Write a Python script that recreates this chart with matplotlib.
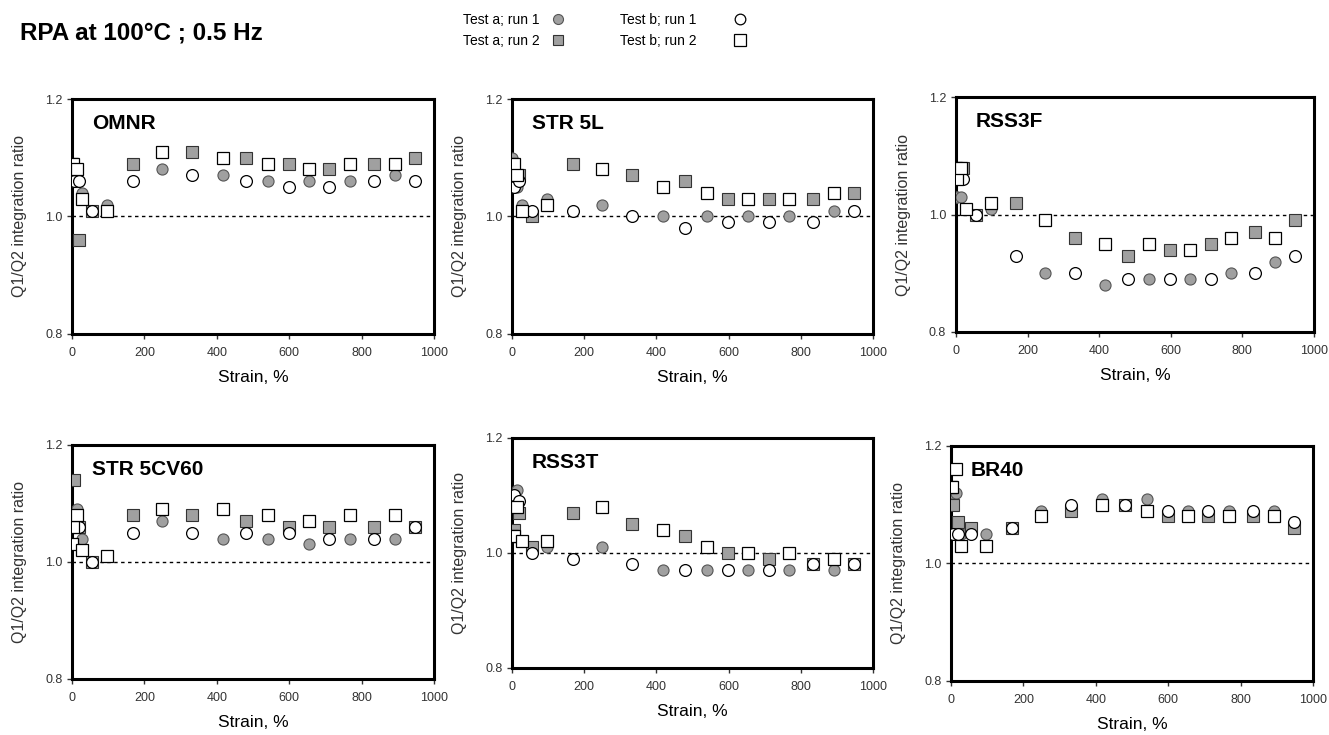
import matplotlib
matplotlib.use('Agg')
import matplotlib.pyplot as plt
import numpy as np

plt.rcParams['font.family'] = ['Liberation Sans', 'DejaVu Sans']

# Strain positions (%); test a run 1 / test b run 2 share one set, the others share the second set
strain_1 = [1, 4, 14, 28, 97, 249, 417, 540, 655, 767, 892]
strain_2 = [6, 19, 56, 168, 332, 480, 598, 711, 835, 948]

panels = ['OMNR', 'STR 5L', 'RSS3F', 'STR 5CV60', 'RSS3T', 'BR40']

# Q1/Q2 ratio per panel: a1 / b2 on strain_1, a2 / b1 on strain_2
a1 = {
    'OMNR':      [1.06, 1.06, 1.06, 1.04, 1.02, 1.08, 1.07, 1.06, 1.06, 1.06, 1.07],
    'STR 5L':    [1.10, 1.05, 1.05, 1.02, 1.03, 1.02, 1.00, 1.00, 1.00, 1.00, 1.01],
    'RSS3F':     [1.03, 1.03, 1.03, 1.01, 1.01, 0.90, 0.88, 0.89, 0.89, 0.90, 0.92],
    'STR 5CV60': [1.06, 1.06, 1.09, 1.04, 1.01, 1.07, 1.04, 1.04, 1.03, 1.04, 1.04],
    'RSS3T':     [1.10, 1.10, 1.11, 1.02, 1.01, 1.01, 0.97, 0.97, 0.97, 0.97, 0.97],
    'BR40':      [1.12, 1.12, 1.12, 1.05, 1.05, 1.09, 1.11, 1.11, 1.09, 1.09, 1.09],
}
b2 = {
    'OMNR':      [1.09, 1.09, 1.08, 1.03, 1.01, 1.11, 1.10, 1.09, 1.08, 1.09, 1.09],
    'STR 5L':    [1.09, 1.09, 1.07, 1.01, 1.02, 1.08, 1.05, 1.04, 1.03, 1.03, 1.04],
    'RSS3F':     [1.08, 1.06, 1.08, 1.01, 1.02, 0.99, 0.95, 0.95, 0.94, 0.96, 0.96],
    'STR 5CV60': [1.03, 1.06, 1.08, 1.02, 1.01, 1.09, 1.09, 1.08, 1.07, 1.08, 1.08],
    'RSS3T':     [1.03, 1.03, 1.08, 1.02, 1.02, 1.08, 1.04, 1.01, 1.00, 1.00, 0.99],
    'BR40':      [1.13, 1.13, 1.16, 1.03, 1.03, 1.08, 1.10, 1.09, 1.08, 1.08, 1.08],
}
a2 = {
    'OMNR':      [1.06, 0.96, 1.01, 1.09, 1.11, 1.10, 1.09, 1.08, 1.09, 1.10],
    'STR 5L':    [1.07, 1.07, 1.00, 1.09, 1.07, 1.06, 1.03, 1.03, 1.03, 1.04],
    'RSS3F':     [1.08, 1.08, 1.00, 1.02, 0.96, 0.93, 0.94, 0.95, 0.97, 0.99],
    'STR 5CV60': [1.14, 1.06, 1.00, 1.08, 1.08, 1.07, 1.06, 1.06, 1.06, 1.06],
    'RSS3T':     [1.04, 1.07, 1.01, 1.07, 1.05, 1.03, 1.00, 0.99, 0.98, 0.98],
    'BR40':      [1.10, 1.07, 1.06, 1.06, 1.09, 1.10, 1.08, 1.08, 1.08, 1.06],
}
b1 = {
    'OMNR':      [1.06, 1.06, 1.01, 1.06, 1.07, 1.06, 1.05, 1.05, 1.06, 1.06],
    'STR 5L':    [1.05, 1.06, 1.01, 1.01, 1.00, 0.98, 0.99, 0.99, 0.99, 1.01],
    'RSS3F':     [1.06, 1.06, 1.00, 0.93, 0.90, 0.89, 0.89, 0.89, 0.90, 0.93],
    'STR 5CV60': [1.06, 1.06, 1.00, 1.05, 1.05, 1.05, 1.05, 1.04, 1.04, 1.06],
    'RSS3T':     [1.10, 1.09, 1.00, 0.99, 0.98, 0.97, 0.97, 0.97, 0.98, 0.98],
    'BR40':      [1.05, 1.05, 1.05, 1.06, 1.10, 1.10, 1.09, 1.09, 1.09, 1.07],
}

fig = plt.figure(figsize=(13.29, 7.35), dpi=100)

boxes = [
    [0.0542, 0.5456, 0.2724, 0.3197],
    [0.3853, 0.5456, 0.2716, 0.3197],
    [0.7193, 0.5483, 0.2694, 0.3197],
    [0.0542, 0.0762, 0.2724, 0.3184],
    [0.3853, 0.0912, 0.2716, 0.3129],
    [0.7156, 0.0735, 0.2724, 0.3197],
]

grey = '#a0a0a0'
handles = {}
for name, box in zip(panels, boxes):
    ax = fig.add_axes(box)
    ax.axhline(1.0, color='black', lw=1.0, ls=(0, (2.5, 2.5)), zorder=1)
    h1, = ax.plot(strain_1, a1[name], 'o', ms=8, mfc=grey, mec='#555555', mew=0.8, ls='none', zorder=3)
    h2, = ax.plot(strain_2, a2[name], 's', ms=8.5, mfc=grey, mec='#333333', mew=0.8, ls='none', zorder=3)
    h3, = ax.plot(strain_2, b1[name], 'o', ms=8.5, mfc='white', mec='black', mew=0.9, ls='none', zorder=4)
    h4, = ax.plot(strain_1, b2[name], 's', ms=9, mfc='white', mec='black', mew=0.9, ls='none', zorder=4)
    handles = {'a1': h1, 'a2': h2, 'b1': h3, 'b2': h4}

    ax.set_xlim(0, 1000)
    ax.set_ylim(0.8, 1.2)
    ax.set_xticks([0, 200, 400, 600, 800, 1000])
    ax.set_yticks([0.8, 1.0, 1.2])
    ax.set_yticklabels(['0.8', '1.0', '1.2'])
    ax.tick_params(labelsize=9, length=3.5, width=1, colors='#333333', direction='out')
    ax.tick_params(axis='x', pad=6)
    for sp in ax.spines.values():
        sp.set_linewidth(2.2)
        sp.set_color('black')
    ax.set_xlabel('Strain, %', fontsize=12.5, labelpad=8)
    ax.set_ylabel('Q1/Q2 integration ratio', fontsize=11.5, color='#333333', labelpad=13)
    ax.text(0.055, 0.935, name, transform=ax.transAxes, fontsize=15,
            fontweight='bold', va='top', ha='left')

fig.text(0.015, 0.955, 'RPA at 100°C ; 0.5 Hz', fontsize=17.5, fontweight='bold',
         va='center', ha='left')

# two legend blocks, one per test
fig.legend([handles['a1'], handles['a2']], ['Test a; run 1', 'Test a; run 2'],
           loc='upper left', bbox_to_anchor=(0.339, 1.0), frameon=False,
           markerfirst=False, fontsize=10, handletextpad=0.3,
           labelspacing=0.55, markerscale=0.9)
fig.legend([handles['b1'], handles['b2']], ['Test b; run 1', 'Test b; run 2'],
           loc='upper left', bbox_to_anchor=(0.457, 1.0), frameon=False,
           markerfirst=False, fontsize=10, handletextpad=2.1,
           labelspacing=0.55, markerscale=0.9)

plt.savefig('out.png', dpi=100)
